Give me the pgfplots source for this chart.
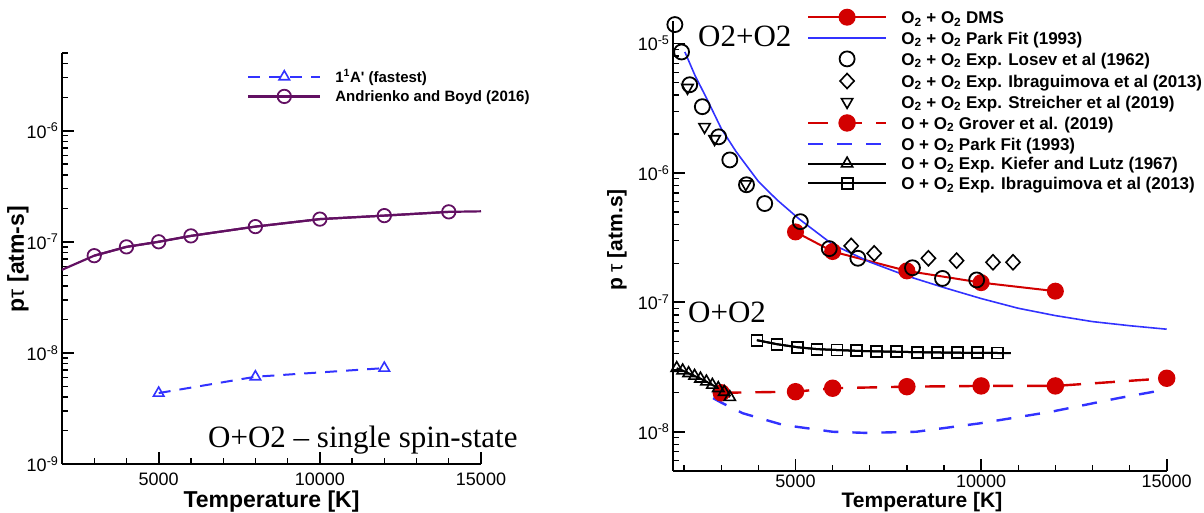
\documentclass[border=0pt]{standalone}
\usepackage{pgfplots}
\pgfplotsset{compat=1.18}
\usepackage{fontspec}
\setmainfont{Liberation Sans}
\newfontfamily\seriffont{Liberation Serif}
\definecolor{abpurple}{RGB}{98,16,98}
\definecolor{pblue}{RGB}{50,50,255}
\definecolor{dred}{RGB}{210,0,0}
\newcommand{\fs}[1]{\fontsize{#1}{#1}\selectfont}
\newcommand{\sub}[1]{\textsubscript{#1}}
\pgfplotsset{
  tec/.style={
    scale only axis,
    axis x line*=bottom, axis y line*=left,
    axis line style={line width=2.4pt, black},
    tick align=inside,
    major tick length=12pt, minor tick length=6pt,
    major tick style={line width=1.8pt, black},
    minor tick style={line width=1.3pt, black},
    xtick={5000,10000,15000},
    xticklabels={5000,10000,15000},
    scaled x ticks=false,
    ticklabel style={font=\fs{18}},
    clip=false,
    legend cell align=left,
  }
}
\begin{document}
\begin{tikzpicture}
\useasboundingbox (0,0) rectangle (1204pt,512pt);
% ---------------- left panel ----------------
\begin{axis}[ymode=log, tec, at={(62pt,48pt)}, anchor=south west, width=419pt, height=411pt,
  xmin=2000, xmax=15000, ymin=1e-9, ymax=5e-6,
  xticklabel style={yshift=-5pt},
  ytick={1e-9,1e-8,1e-7,1e-6},
  yticklabels={10\textsuperscript{-9},10\textsuperscript{-8},10\textsuperscript{-7},10\textsuperscript{-6}},
  minor xtick={3000,4000,6000,7000,8000,9000,11000,12000,13000,14000},
  minor ytick={2e-9,3e-9,4e-9,5e-9,6e-9,7e-9,8e-9,9e-9,2e-8,3e-8,4e-8,5e-8,6e-8,7e-8,8e-8,9e-8,2e-7,3e-7,4e-7,5e-7,6e-7,7e-7,8e-7,9e-7,2e-6,3e-6,4e-6,5e-6},
  legend image code/.code={\draw[mark repeat=2,mark phase=2,#1] plot coordinates {(0pt,0pt)(36pt,0pt)(72pt,0pt)};},
  legend style={at={(0.4415,0.9574)}, anchor=north west, draw=none, fill=none, inner sep=0pt,
    row sep=7.5pt, column sep=14pt, font=\bfseries\fs{15},
    nodes={inner sep=0pt, text height=11pt, text depth=0pt}},
]
\addplot[pblue, line width=2pt, dash pattern=on 12pt off 9pt, mark=triangle, mark size=6pt,
  mark options={solid, line width=1.6pt}] coordinates {
  (5000,4.35e-9) (8000,6.1e-9) (12000,7.3e-9)};
\addlegendentry{1\textsuperscript{1}A\textquotesingle\ (fastest)}
\addplot[abpurple, line width=2.2pt, forget plot] coordinates {
  (2000,5.6e-8) (3000,7.5e-8) (4000,9.0e-8) (5000,1.0e-7) (6000,1.13e-7) (8000,1.37e-7)
  (10000,1.6e-7) (12000,1.72e-7) (14000,1.86e-7) (15000,1.88e-7)};
\addplot[abpurple, line width=2.2pt, mark=o, mark size=6.7pt,
  mark options={line width=1.8pt}] coordinates {
  (3000,7.5e-8) (4000,9.0e-8) (5000,1.0e-7) (6000,1.13e-7) (8000,1.37e-7)
  (10000,1.6e-7) (12000,1.72e-7) (14000,1.86e-7)};
\addlegendentry{Andrienko and Boyd (2016)}
\end{axis}
% ---------------- right panel ----------------
\begin{axis}[ymode=log, tec, at={(673pt,41.3pt)}, anchor=south west, width=493.7pt, height=450pt,
  xmin=1700, xmax=15000, ymin=5e-9, ymax=1.5e-5,
  xticklabel style={yshift=-1pt},
  ytick={1e-8,1e-7,1e-6,1e-5},
  yticklabels={10\textsuperscript{-8},10\textsuperscript{-7},10\textsuperscript{-6},10\textsuperscript{-5}},
  minor xtick={2000,3000,4000,6000,7000,8000,9000,11000,12000,13000,14000},
  minor ytick={6e-9,7e-9,8e-9,9e-9,2e-8,3e-8,4e-8,5e-8,6e-8,7e-8,8e-8,9e-8,2e-7,3e-7,4e-7,5e-7,6e-7,7e-7,8e-7,9e-7,2e-6,3e-6,4e-6,5e-6,6e-6,7e-6,8e-6,9e-6},
  legend image code/.code={\draw[mark repeat=2,mark phase=2,#1] plot coordinates {(0pt,0pt)(39pt,0pt)(78pt,0pt)};},
  legend style={at={(0.2708,1.0249)}, anchor=north west, draw=none, fill=none, inner sep=0pt,
    row sep=7.1pt, column sep=14pt, font=\bfseries\fs{17},
    nodes={inner sep=0pt, text height=12.5pt, text depth=0pt}},
]
% O2+O2 DMS
\addplot[dred, line width=2pt, mark=*, mark size=7.5pt, mark options={fill=dred}] coordinates {
  (5000,3.5e-7) (6000,2.47e-7) (8000,1.75e-7) (10000,1.42e-7) (12000,1.22e-7)};
\addlegendentry{O\sub{2} + O\sub{2} DMS}
% O2+O2 Park fit
\addplot[pblue, line width=1.6pt] coordinates {
  (2020,8.6e-6) (2300,5.6e-6) (2600,3.8e-6) (3000,2.2e-6) (3400,1.46e-6) (4000,8.6e-7)
  (4500,6.2e-7) (5100,4.4e-7) (6000,2.8e-7) (7000,2.05e-7) (8000,1.6e-7) (9000,1.3e-7)
  (10000,1.07e-7) (11000,9.0e-8) (12000,7.9e-8) (13000,7.1e-8) (14000,6.6e-8) (15000,6.2e-8)};
\addlegendentry{O\sub{2} + O\sub{2} Park Fit (1993)}
% Losev
\addplot[only marks, black, mark=o, mark size=7.5pt, mark options={line width=1.8pt}] coordinates {
  (1750,1.4e-5) (1930,8.6e-6) (2150,4.8e-6) (2490,3.25e-6) (2930,1.9e-6) (3230,1.26e-6)
  (3680,8.1e-7) (4170,5.8e-7) (5130,4.2e-7) (5910,2.6e-7) (6680,2.19e-7) (8150,1.85e-7)
  (8960,1.53e-7) (9880,1.49e-7)};
\addlegendentry{O\sub{2} + O\sub{2} Exp. Losev et al (1962)}
% Ibraguimova O2
\addplot[only marks, black, mark=diamond, mark size=7.5pt, mark options={line width=1.6pt, xscale=1.25}] coordinates {
  (6500,2.73e-7) (7120,2.39e-7) (8580,2.19e-7) (9340,2.1e-7) (10320,2.04e-7) (10860,2.04e-7)};
\addlegendentry{O\sub{2} + O\sub{2} Exp. Ibraguimova et al (2013)}
% Streicher
\addplot[only marks, black, mark=triangle, mark size=6.5pt, mark options={line width=1.6pt, rotate=180}] coordinates {
  (2090,4.55e-6) (2550,2.27e-6) (2820,1.83e-6) (3660,8.2e-7)};
\addlegendentry{O\sub{2} + O\sub{2} Exp. Streicher et al (2019)}
% Grover
\addplot[dred, line width=2.4pt, dash pattern=on 20pt off 14pt, mark=*, mark size=7.5pt,
  mark options={solid, fill=dred}] coordinates {
  (3000,2.0e-8) (5000,2.04e-8) (6000,2.17e-8) (8000,2.23e-8) (10000,2.26e-8) (12000,2.26e-8) (15000,2.59e-8)};
\addlegendentry{O + O\sub{2} Grover et al. (2019)}
% O+O2 Park fit
\addplot[pblue, line width=2.4pt, dash pattern=on 15pt off 14pt] coordinates {
  (2780,1.82e-8) (3000,1.68e-8) (3580,1.39e-8) (4660,1.13e-8) (6000,1.0e-8) (6900,9.8e-9)
  (8250,1.0e-8) (9950,1.16e-8) (11900,1.43e-8) (13700,1.82e-8) (14900,2.1e-8)};
\addlegendentry{O + O\sub{2} Park Fit (1993)}
% Kiefer and Lutz
\addplot[black, line width=2pt, mark=triangle, mark size=6.5pt, mark options={line width=1.6pt}] coordinates {
  (1800,3.1e-8) (1960,2.97e-8) (2120,2.83e-8) (2280,2.7e-8) (2440,2.57e-8) (2600,2.44e-8)
  (2760,2.3e-8) (2920,2.17e-8) (3080,2.03e-8) (3230,1.85e-8)};
\addlegendentry{O + O\sub{2} Exp. Kiefer and Lutz (1967)}
% Ibraguimova O
\addplot[black, line width=2pt, forget plot] coordinates {
  (3960,5.1e-8) (4500,4.75e-8) (5050,4.5e-8) (5580,4.35e-8) (6120,4.28e-8) (6650,4.22e-8)
  (7190,4.18e-8) (7730,4.15e-8) (8280,4.12e-8) (8820,4.1e-8) (9370,4.08e-8) (9910,4.07e-8)
  (10450,4.06e-8) (10800,4.06e-8)};
\addplot[black, line width=2pt, mark=square, mark size=5.5pt,
  mark options={line width=1.8pt}] coordinates {
  (3960,5.1e-8) (4500,4.75e-8) (5050,4.5e-8) (5580,4.35e-8) (6120,4.28e-8) (6650,4.22e-8)
  (7190,4.18e-8) (7730,4.15e-8) (8280,4.12e-8) (8820,4.1e-8) (9370,4.08e-8) (9910,4.07e-8)
  (10450,4.06e-8)};
\addlegendentry{O + O\sub{2} Exp. Ibraguimova et al (2013)}
\end{axis}
% ---------------- labels and annotations ----------------
\node[anchor=base, inner sep=0pt, font=\bfseries\fs{23}] at (271.5pt,5pt) {Temperature [K]};
\node[rotate=90, font=\bfseries\fs{23}] at (18pt,253pt) {p{\mdseries τ} [atm-s]};
\node[anchor=base, inner sep=0pt, font=\bfseries\fs{21}] at (922pt,4.5pt) {Temperature [K]};
\node[rotate=90, font=\bfseries\fs{21}] at (617pt,272pt) {p {\mdseries τ} [atm.s]};
\node[anchor=base west, font=\seriffont\fs{31}, inner sep=0pt] at (208pt,65pt) {O+O2 – single spin-state};
\node[anchor=base west, font=\seriffont\fs{31}, inner sep=0pt] at (698pt,465pt) {O2+O2};
\node[anchor=base west, font=\seriffont\fs{31}, inner sep=0pt] at (688pt,190pt) {O+O2};
\end{tikzpicture}
\end{document}
